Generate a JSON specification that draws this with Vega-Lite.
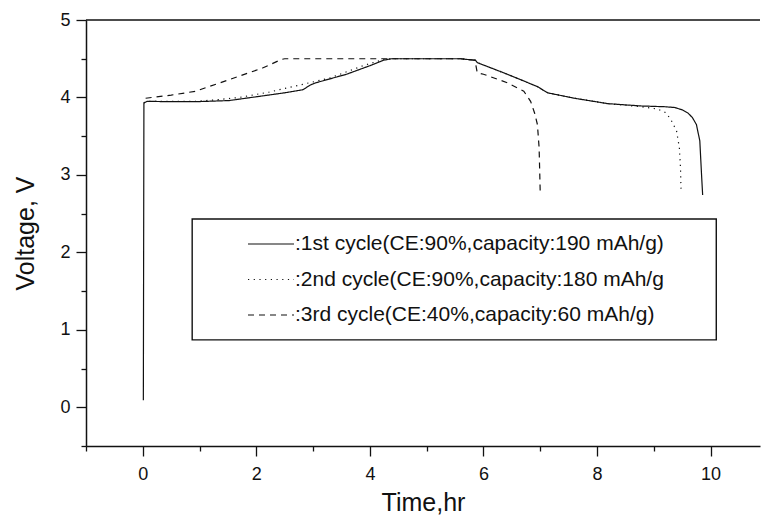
{
  "$schema": "https://vega.github.io/schema/vega-lite/v6.json",
  "width": 674,
  "height": 426,
  "autosize": "none",
  "padding": {"left": 86, "top": 20, "right": 2, "bottom": 71},
  "background": "white",
  "data": {"values": [{"box": 1}]},
  "config": {
    "view": {"stroke": null},
    "font": "Liberation Sans",
    "axis": {
      "domainColor": "#111",
      "domainWidth": 1.5,
      "tickColor": "#111",
      "tickWidth": 1.3,
      "grid": false,
      "labelFont": "Liberation Sans",
      "labelFontSize": 18,
      "labelColor": "#111",
      "titleFont": "Liberation Sans",
      "titleFontSize": 25,
      "titleFontWeight": "normal",
      "titleColor": "#111",
      "labelOverlap": false,
      "labelFlush": false
    }
  },
  "resolve": {"axis": {"y": "independent"}},
  "datasets": {
    "curves": [
      {"i": 1, "s": ":1st cycle(CE:90%,capacity:190 mAh/g)", "t": 0.01, "v": 0.09},
      {"i": 2, "s": ":1st cycle(CE:90%,capacity:190 mAh/g)", "t": 0.02, "v": 3.93},
      {"i": 3, "s": ":1st cycle(CE:90%,capacity:190 mAh/g)", "t": 0.08, "v": 3.95},
      {"i": 4, "s": ":1st cycle(CE:90%,capacity:190 mAh/g)", "t": 0.5, "v": 3.945},
      {"i": 5, "s": ":1st cycle(CE:90%,capacity:190 mAh/g)", "t": 0.93, "v": 3.945},
      {"i": 6, "s": ":1st cycle(CE:90%,capacity:190 mAh/g)", "t": 1.52, "v": 3.96},
      {"i": 7, "s": ":1st cycle(CE:90%,capacity:190 mAh/g)", "t": 2.11, "v": 4.02},
      {"i": 8, "s": ":1st cycle(CE:90%,capacity:190 mAh/g)", "t": 2.5, "v": 4.06},
      {"i": 9, "s": ":1st cycle(CE:90%,capacity:190 mAh/g)", "t": 2.82, "v": 4.1},
      {"i": 10, "s": ":1st cycle(CE:90%,capacity:190 mAh/g)", "t": 2.95, "v": 4.16},
      {"i": 11, "s": ":1st cycle(CE:90%,capacity:190 mAh/g)", "t": 3.05, "v": 4.19},
      {"i": 12, "s": ":1st cycle(CE:90%,capacity:190 mAh/g)", "t": 3.59, "v": 4.3},
      {"i": 13, "s": ":1st cycle(CE:90%,capacity:190 mAh/g)", "t": 4.0, "v": 4.41},
      {"i": 14, "s": ":1st cycle(CE:90%,capacity:190 mAh/g)", "t": 4.24, "v": 4.48},
      {"i": 15, "s": ":1st cycle(CE:90%,capacity:190 mAh/g)", "t": 4.38, "v": 4.5},
      {"i": 16, "s": ":1st cycle(CE:90%,capacity:190 mAh/g)", "t": 5.0, "v": 4.5},
      {"i": 17, "s": ":1st cycle(CE:90%,capacity:190 mAh/g)", "t": 5.59, "v": 4.5},
      {"i": 18, "s": ":1st cycle(CE:90%,capacity:190 mAh/g)", "t": 5.86, "v": 4.48},
      {"i": 19, "s": ":1st cycle(CE:90%,capacity:190 mAh/g)", "t": 5.89, "v": 4.45},
      {"i": 20, "s": ":1st cycle(CE:90%,capacity:190 mAh/g)", "t": 6.42, "v": 4.3},
      {"i": 21, "s": ":1st cycle(CE:90%,capacity:190 mAh/g)", "t": 6.95, "v": 4.14},
      {"i": 22, "s": ":1st cycle(CE:90%,capacity:190 mAh/g)", "t": 7.13, "v": 4.06},
      {"i": 23, "s": ":1st cycle(CE:90%,capacity:190 mAh/g)", "t": 7.6, "v": 3.99},
      {"i": 24, "s": ":1st cycle(CE:90%,capacity:190 mAh/g)", "t": 8.19, "v": 3.92},
      {"i": 25, "s": ":1st cycle(CE:90%,capacity:190 mAh/g)", "t": 8.78, "v": 3.89},
      {"i": 26, "s": ":1st cycle(CE:90%,capacity:190 mAh/g)", "t": 9.2, "v": 3.88},
      {"i": 27, "s": ":1st cycle(CE:90%,capacity:190 mAh/g)", "t": 9.37, "v": 3.87},
      {"i": 28, "s": ":1st cycle(CE:90%,capacity:190 mAh/g)", "t": 9.5, "v": 3.84},
      {"i": 29, "s": ":1st cycle(CE:90%,capacity:190 mAh/g)", "t": 9.6, "v": 3.8},
      {"i": 30, "s": ":1st cycle(CE:90%,capacity:190 mAh/g)", "t": 9.68, "v": 3.74},
      {"i": 31, "s": ":1st cycle(CE:90%,capacity:190 mAh/g)", "t": 9.75, "v": 3.65},
      {"i": 32, "s": ":1st cycle(CE:90%,capacity:190 mAh/g)", "t": 9.81, "v": 3.44},
      {"i": 33, "s": ":1st cycle(CE:90%,capacity:190 mAh/g)", "t": 9.84, "v": 3.01},
      {"i": 34, "s": ":1st cycle(CE:90%,capacity:190 mAh/g)", "t": 9.86, "v": 2.74},
      {"i": 1, "s": ":2nd cycle(CE:90%,capacity:180 mAh/g", "t": 0.02, "v": 3.93},
      {"i": 2, "s": ":2nd cycle(CE:90%,capacity:180 mAh/g", "t": 0.08, "v": 3.95},
      {"i": 3, "s": ":2nd cycle(CE:90%,capacity:180 mAh/g", "t": 0.93, "v": 3.95},
      {"i": 4, "s": ":2nd cycle(CE:90%,capacity:180 mAh/g", "t": 1.3, "v": 3.97},
      {"i": 5, "s": ":2nd cycle(CE:90%,capacity:180 mAh/g", "t": 1.7, "v": 4.0},
      {"i": 6, "s": ":2nd cycle(CE:90%,capacity:180 mAh/g", "t": 2.23, "v": 4.07},
      {"i": 7, "s": ":2nd cycle(CE:90%,capacity:180 mAh/g", "t": 2.82, "v": 4.17},
      {"i": 8, "s": ":2nd cycle(CE:90%,capacity:180 mAh/g", "t": 3.29, "v": 4.25},
      {"i": 9, "s": ":2nd cycle(CE:90%,capacity:180 mAh/g", "t": 3.88, "v": 4.41},
      {"i": 10, "s": ":2nd cycle(CE:90%,capacity:180 mAh/g", "t": 4.24, "v": 4.49},
      {"i": 11, "s": ":2nd cycle(CE:90%,capacity:180 mAh/g", "t": 4.38, "v": 4.5},
      {"i": 12, "s": ":2nd cycle(CE:90%,capacity:180 mAh/g", "t": 5.59, "v": 4.5},
      {"i": 13, "s": ":2nd cycle(CE:90%,capacity:180 mAh/g", "t": 5.86, "v": 4.48},
      {"i": 14, "s": ":2nd cycle(CE:90%,capacity:180 mAh/g", "t": 5.89, "v": 4.45},
      {"i": 15, "s": ":2nd cycle(CE:90%,capacity:180 mAh/g", "t": 6.42, "v": 4.3},
      {"i": 16, "s": ":2nd cycle(CE:90%,capacity:180 mAh/g", "t": 6.95, "v": 4.14},
      {"i": 17, "s": ":2nd cycle(CE:90%,capacity:180 mAh/g", "t": 7.13, "v": 4.06},
      {"i": 18, "s": ":2nd cycle(CE:90%,capacity:180 mAh/g", "t": 7.6, "v": 3.99},
      {"i": 19, "s": ":2nd cycle(CE:90%,capacity:180 mAh/g", "t": 8.19, "v": 3.92},
      {"i": 20, "s": ":2nd cycle(CE:90%,capacity:180 mAh/g", "t": 8.78, "v": 3.88},
      {"i": 21, "s": ":2nd cycle(CE:90%,capacity:180 mAh/g", "t": 9.07, "v": 3.85},
      {"i": 22, "s": ":2nd cycle(CE:90%,capacity:180 mAh/g", "t": 9.22, "v": 3.8},
      {"i": 23, "s": ":2nd cycle(CE:90%,capacity:180 mAh/g", "t": 9.31, "v": 3.7},
      {"i": 24, "s": ":2nd cycle(CE:90%,capacity:180 mAh/g", "t": 9.4, "v": 3.57},
      {"i": 25, "s": ":2nd cycle(CE:90%,capacity:180 mAh/g", "t": 9.45, "v": 3.35},
      {"i": 26, "s": ":2nd cycle(CE:90%,capacity:180 mAh/g", "t": 9.47, "v": 3.09},
      {"i": 27, "s": ":2nd cycle(CE:90%,capacity:180 mAh/g", "t": 9.48, "v": 2.78},
      {"i": 1, "s": ":3rd cycle(CE:40%,capacity:60 mAh/g)", "t": 0.05, "v": 3.99},
      {"i": 2, "s": ":3rd cycle(CE:40%,capacity:60 mAh/g)", "t": 0.5, "v": 4.03},
      {"i": 3, "s": ":3rd cycle(CE:40%,capacity:60 mAh/g)", "t": 0.93, "v": 4.08},
      {"i": 4, "s": ":3rd cycle(CE:40%,capacity:60 mAh/g)", "t": 1.52, "v": 4.23},
      {"i": 5, "s": ":3rd cycle(CE:40%,capacity:60 mAh/g)", "t": 2.11, "v": 4.38},
      {"i": 6, "s": ":3rd cycle(CE:40%,capacity:60 mAh/g)", "t": 2.44, "v": 4.49},
      {"i": 7, "s": ":3rd cycle(CE:40%,capacity:60 mAh/g)", "t": 2.5, "v": 4.5},
      {"i": 8, "s": ":3rd cycle(CE:40%,capacity:60 mAh/g)", "t": 5.6, "v": 4.5},
      {"i": 9, "s": ":3rd cycle(CE:40%,capacity:60 mAh/g)", "t": 5.85, "v": 4.48},
      {"i": 10, "s": ":3rd cycle(CE:40%,capacity:60 mAh/g)", "t": 5.87, "v": 4.4},
      {"i": 11, "s": ":3rd cycle(CE:40%,capacity:60 mAh/g)", "t": 5.89, "v": 4.32},
      {"i": 12, "s": ":3rd cycle(CE:40%,capacity:60 mAh/g)", "t": 6.0, "v": 4.3},
      {"i": 13, "s": ":3rd cycle(CE:40%,capacity:60 mAh/g)", "t": 6.42, "v": 4.19},
      {"i": 14, "s": ":3rd cycle(CE:40%,capacity:60 mAh/g)", "t": 6.71, "v": 4.08},
      {"i": 15, "s": ":3rd cycle(CE:40%,capacity:60 mAh/g)", "t": 6.83, "v": 3.95},
      {"i": 16, "s": ":3rd cycle(CE:40%,capacity:60 mAh/g)", "t": 6.9, "v": 3.8},
      {"i": 17, "s": ":3rd cycle(CE:40%,capacity:60 mAh/g)", "t": 6.95, "v": 3.65},
      {"i": 18, "s": ":3rd cycle(CE:40%,capacity:60 mAh/g)", "t": 6.98, "v": 3.35},
      {"i": 19, "s": ":3rd cycle(CE:40%,capacity:60 mAh/g)", "t": 7.0, "v": 2.76}
    ]
  },
  "layer": [
    {
      "mark": {"type": "rect", "fill": "white", "stroke": "#111", "strokeWidth": 1.4},
      "encoding": {
        "x": {"datum": 0.87, "type": "quantitative"},
        "x2": {"datum": 10.1},
        "y": {
          "datum": 2.43, "type": "quantitative",
          "axis": {
            "orient": "left",
            "title": null,
            "values": [-0.5, 0.5, 1.5, 2.5, 3.5, 4.5],
            "labels": false,
            "domain": false,
            "tickSize": 5
          }
        },
        "y2": {"datum": 0.87}
      }
    },
    {
      "mark": {"type": "rule", "color": "#111", "strokeWidth": 1.5},
      "encoding": {"y": {"datum": 5, "type": "quantitative", "axis": null}}
    },
    {
      "data": {"name": "curves"},
      "mark": {"type": "line", "color": "#111", "strokeWidth": 1.2},
      "encoding": {
        "x": {
          "field": "t", "type": "quantitative",
          "scale": {"domain": [-1, 10.87], "nice": false, "zero": false},
          "axis": {
            "title": "Time,hr",
            "values": [-1, 0, 1, 2, 3, 4, 5, 6, 7, 8, 9, 10],
            "labelExpr": "datum.value % 2 === 0 ? '' + datum.value : ''",
            "tickSize": {"condition": {"test": "datum.value % 2 === 0", "value": 10}, "value": 5},
            "labelPadding": 9,
            "titlePadding": 7
          }
        },
        "y": {
          "field": "v", "type": "quantitative",
          "scale": {"domain": [-0.5, 5], "nice": false, "zero": false},
          "axis": {
            "orient": "left",
            "title": "Voltage, V",
            "values": [0, 1, 2, 3, 4, 5],
            "format": "d",
            "tickSize": 10,
            "labelPadding": 6,
            "titlePadding": 21
          }
        },
        "order": {"field": "i", "type": "quantitative"},
        "strokeDash": {
          "field": "s", "type": "nominal",
          "scale": {
            "domain": [":1st cycle(CE:90%,capacity:190 mAh/g)", ":2nd cycle(CE:90%,capacity:180 mAh/g", ":3rd cycle(CE:40%,capacity:60 mAh/g)"],
            "range": [[1, 0], [1.2, 4.5], [6, 5]]
          },
          "legend": {
            "title": null,
            "orient": "none",
            "legendX": 161,
            "legendY": 200,
            "padding": 0,
            "symbolType": "stroke",
            "symbolSize": 2116,
            "symbolStrokeWidth": 1.2,
            "symbolStrokeColor": "#111",
            "labelFont": "Liberation Sans",
            "labelFontSize": 21,
            "labelColor": "#111",
            "labelOffset": 0,
            "labelLimit": 0,
            "rowPadding": 1.5
          }
        }
      }
    }
  ]
}
